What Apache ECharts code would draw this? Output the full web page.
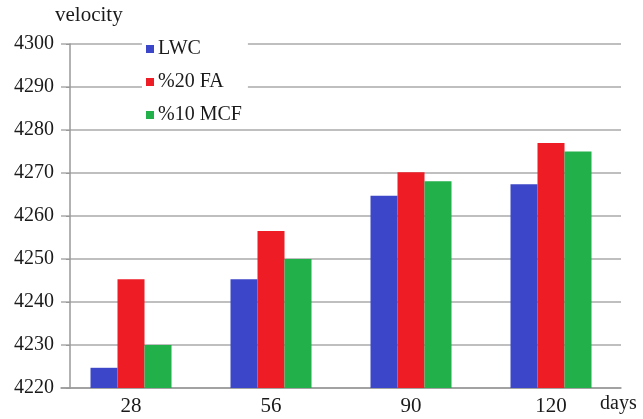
<!DOCTYPE html>
<html><head><meta charset="utf-8">
<script src="https://cdn.jsdelivr.net/npm/echarts@6/dist/echarts.min.js"></script>
<style>html,body{margin:0;padding:0;background:#fff}#c{width:643px;height:419px}</style>
</head><body><div id="c"></div>
<script>
const categories = ['28', '56', '90', '120'];
const seriesNames = ['LWC', '%20 FA', '%10 MCF'];
const lwc = [4224.7, 4245.3, 4264.7, 4267.4];
const fa20 = [4245.3, 4256.5, 4270.2, 4277.0];
const mcf10 = [4230.0, 4250.0, 4268.1, 4275.0];
const colors = ['#3c46c8', '#ee1c25', '#22b04a'];
const font = 'Liberation Serif';
const chart = echarts.init(document.getElementById('c'));
chart.setOption({
  animation: false,
  color: colors,
  grid: {left: 61, right: 22, top: 44, bottom: 31},
  legend: {
    orient: 'vertical', left: 142, top: 36,
    itemWidth: 8, itemHeight: 8, itemGap: 13,
    icon: 'rect', backgroundColor: '#fff', padding: [3, 6, 3, 4],
    textStyle: {fontFamily: font, fontSize: 20, color: '#1a1a1a', padding: [0, 0, 0, -1]},
    data: seriesNames
  },
  xAxis: {
    type: 'category', data: categories,
    axisLine: {lineStyle: {color: '#999', width: 1.5}},
    axisTick: {show: false},
    axisLabel: {fontFamily: font, fontSize: 21, color: '#1a1a1a', margin: 8}
  },
  yAxis: {
    type: 'value', min: 4220, max: 4300, interval: 10, offset: -9,
    axisLine: {show: true, lineStyle: {color: '#999', width: 1.5}},
    axisTick: {show: true, length: 4, lineStyle: {color: '#999'}},
    splitLine: {lineStyle: {color: '#aaa', width: 1.5}},
    axisLabel: {fontFamily: font, fontSize: 20, color: '#1a1a1a', margin: 16, formatter: v => String(v)}
  },
  graphic: [
    {type: 'text', left: 55, top: 5, style: {text: 'velocity', font: '21px "Liberation Serif"', fill: '#1a1a1a'}},
    {type: 'text', left: 600, top: 394, style: {text: 'days', font: '20px "Liberation Serif"', fill: '#1a1a1a'}}
  ],
  series: [
    {name: seriesNames[0], type: 'bar', data: lwc, barWidth: 27, barGap: '0%'},
    {name: seriesNames[1], type: 'bar', data: fa20, barWidth: 27, barGap: '0%'},
    {name: seriesNames[2], type: 'bar', data: mcf10, barWidth: 27, barGap: '0%'}
  ]
});
</script></body></html>
